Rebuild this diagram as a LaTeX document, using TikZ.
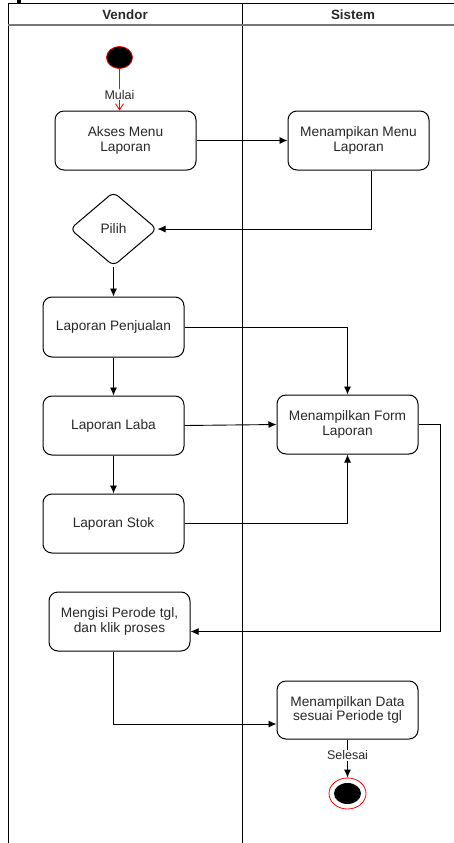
\documentclass[tikz,border=0pt]{standalone}
\usepackage{fontspec}
\setmainfont{Liberation Sans}
\usetikzlibrary{shapes.geometric,arrows.meta,positioning}
\definecolor{txt}{RGB}{40,40,40}
\definecolor{lanegray}{RGB}{120,120,120}
\begin{document}
\begin{tikzpicture}[x=1pt,y=-1pt,
  font=\fontsize{13.7}{14.3}\selectfont,
  lane/.style={line width=1pt,black},
  act/.style={draw=black,line width=1pt,rounded corners=9pt,minimum width=141pt,
    minimum height=59pt,align=center,text=txt,inner sep=2pt},
  choice/.style={draw=black,line width=1pt,diamond,rounded corners=6pt,
    minimum width=87pt,minimum height=74pt,inner sep=0pt,text=txt},
  flow/.style={line width=0.9pt,-{Latex[length=8pt,width=7pt]}},
  startflow/.style={line width=0.9pt,red,-{Straight Barb[length=6pt,width=8pt]}},
  lbl/.style={fill=white,inner sep=1pt,text=txt,font=\fontsize{12.5}{13}\selectfont},
  head/.style={font=\bfseries\fontsize{13.4}{14}\selectfont,text=txt}]
\useasboundingbox (0,0) rectangle (454,843);
\fill[white] (0,0) rectangle (454,843);

% swimlane frame
\fill[black] (16.5,0) rectangle (20.5,3.5);
\draw[lane] (8,4) -- (454,4);
\draw[lane] (8,4) -- (8,843);
\draw[lane] (242,4) -- (242,843);
\draw[line width=1.1pt,lanegray] (8,25) -- (454,25);
\node[head] (hv) at (125,14.5) {Vendor};
\node[head] (hs) at (353,14.5) {Sistem};

% activities
\node[ellipse,fill=black,draw=red,line width=0.8pt,minimum width=26pt,minimum height=22pt,inner sep=0pt] (start) at (119.5,57.5) {};
\node[act] (akses) at (125.5,140.5) {Akses Menu\\Laporan};
\node[act] (menu) at (358.5,140.5) {Menampikan Menu\\Laporan};
\node[choice] (pilih) at (113.5,229) {Pilih};
\node[act,minimum height=60pt] (penj) at (113.5,327) {Laporan Penjualan};
\node[act] (laba) at (113.5,425.5) {Laporan Laba};
\node[act] (stok) at (113.5,523.5) {Laporan Stok};
\node[act] (form) at (347.5,424.5) {Menampilkan Form\\Laporan};
\node[act] (mengisi) at (119.5,621.5) {Mengisi Perode tgl,\\dan klik proses};
\node[act,minimum height=58pt] (data) at (347.5,710) {Menampilkan Data\\sesuai Periode tgl};
\node[ellipse,draw=red,fill=white,line width=0.8pt,minimum width=37pt,minimum height=31pt,inner sep=0pt] (endo) at (347.5,793.5) {};
\node[ellipse,fill=black,minimum width=27pt,minimum height=21pt,inner sep=0pt] (endi) at (endo.center) {};

% flows
\draw[startflow] (start.south) -- (start.south |- akses.north)
  node[lbl,pos=0.62] (mulai) {Mulai};
\draw[flow] (akses.east) -- (menu.west);
\draw[flow] ([xshift=12.5pt]menu.south) |- (pilih.east);
\draw[flow] (pilih.south) -- (penj.north);
\draw[flow] (penj.south) -- (laba.north);
\draw[flow] (laba.south) -- (stok.north);
\draw[flow] (penj.east) -| (form.north);
\draw[flow] (laba.east) -- (form.west);
\draw[flow] (stok.east) -| (form.south);
\draw[flow] (form.east) -- ++(22,0) |- ([yshift=-10pt]mengisi.east);
\draw[flow] ([xshift=-6pt]mengisi.south) |- ([yshift=-14pt]data.west);
\draw[flow] (data.south) -- (endo.north)
  node[lbl,pos=0.42] (selesai) {Selesai};
\end{tikzpicture}
\end{document}
